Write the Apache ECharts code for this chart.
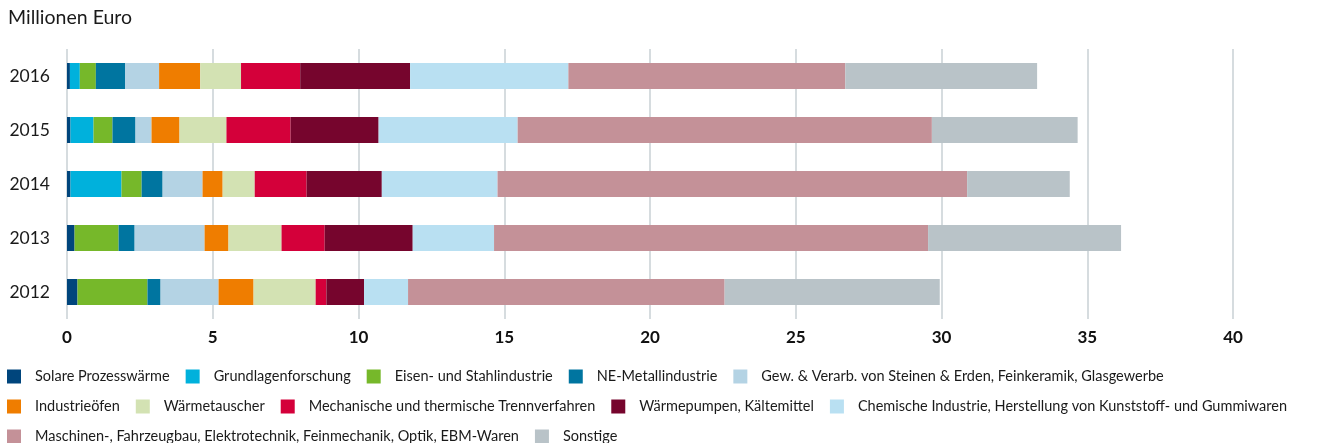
<!DOCTYPE html>
<html>
<head>
<meta charset="utf-8">
<script src="https://cdn.jsdelivr.net/npm/echarts@6/dist/echarts.min.js"></script>
<style>
  html, body { margin: 0; padding: 0; background: #fff; }
  #chart { width: 1317px; height: 443px; }
</style>
</head>
<body>
<div id="chart"></div>
<script>
const FONT = 'Lato, "Noto Sans", sans-serif'

const years = ['2012', '2013', '2014', '2015', '2016']
const xTicks = { min: 0, max: 40, interval: 5 }

// values in Mio. Euro, order 2012..2016
const solare       = [0.36, 0.26, 0.12, 0.12, 0.10]
const grundlagen   = [0, 0, 1.75, 0.79, 0.34]
const eisenStahl   = [2.40, 1.51, 0.69, 0.65, 0.55]
const neMetall     = [0.45, 0.55, 0.72, 0.79, 1.00]
const steineErden  = [1.99, 2.40, 1.37, 0.55, 1.17]
const industrieoef = [1.20, 0.82, 0.69, 0.96, 1.41]
const waermetausch = [2.13, 1.82, 1.10, 1.61, 1.40]
const trennverf    = [0.37, 1.48, 1.78, 2.20, 2.03]
const waermepumpen = [1.29, 3.02, 2.58, 3.02, 3.77]
const chemie       = [1.51, 2.79, 3.97, 4.77, 5.43]
const maschinen    = [10.86, 14.89, 16.11, 14.21, 9.50]
const sonstige     = [7.38, 6.62, 3.52, 5.00, 6.58]

const seriesDefs = [
  { name: 'Solare Prozesswärme', data: solare, color: '#00457c' },
  { name: 'Grundlagenforschung', data: grundlagen, color: '#00b1dc' },
  { name: 'Eisen- und Stahlindustrie', data: eisenStahl, color: '#76b82a' },
  { name: 'NE-Metallindustrie', data: neMetall, color: '#0075a0' },
  { name: 'Gew. & Verarb. von Steinen & Erden, Feinkeramik, Glasgewerbe', data: steineErden, color: '#b4d3e4' },
  { name: 'Industrieöfen', data: industrieoef, color: '#ef7d00' },
  { name: 'Wärmetauscher', data: waermetausch, color: '#d3e2b3' },
  { name: 'Mechanische und thermische Trennverfahren', data: trennverf, color: '#d4003a' },
  { name: 'Wärmepumpen, Kältemittel', data: waermepumpen, color: '#76052d' },
  { name: 'Chemische Industrie, Herstellung von Kunststoff- und Gummiwaren', data: chemie, color: '#b9e0f2' },
  { name: 'Maschinen-, Fahrzeugbau, Elektrotechnik, Feinmechanik, Optik, EBM-Waren', data: maschinen, color: '#c49198' },
  { name: 'Sonstige', data: sonstige, color: '#b9c3c8' },
]

// the legend is laid out in three fixed rows
const legendRows = [
  seriesDefs.slice(0, 5).map(s => s.name),
  seriesDefs.slice(5, 10).map(s => s.name),
  seriesDefs.slice(10).map(s => s.name),
]

const legendRow = (names, top) => ({
  data: names,
  left: 7,
  top: top,
  width: 2000,
  padding: 0,
  icon: 'rect',
  itemWidth: 14,
  itemHeight: 14,
  itemGap: 16,
  selectedMode: false,
  textStyle: { fontFamily: FONT, fontSize: 14.5, color: '#1a1a1a', padding: [0, 0, 0, 9] },
})

const chart = echarts.init(document.getElementById('chart'))
chart.setOption({
  animation: false,
  textStyle: { fontFamily: FONT },
  title: {
    text: 'Millionen Euro',
    left: 3,
    top: 3,
    textStyle: { fontFamily: FONT, fontSize: 19.5, fontWeight: 'normal', color: '#1a1a1a' },
  },
  legend: [
    legendRow(legendRows[0], 369),
    legendRow(legendRows[1], 399),
    legendRow(legendRows[2], 429),
  ],
  grid: { left: 67, right: 84, top: 49, bottom: 124 },
  xAxis: {
    type: 'value',
    ...xTicks,
    axisLine: { show: false },
    axisTick: { show: false },
    splitLine: { lineStyle: { color: '#c8d0d5', width: 1.5 } },
    axisLabel: { fontFamily: FONT, fontSize: 17, fontWeight: 'bold', color: '#111', margin: 10 },
  },
  yAxis: {
    type: 'category',
    data: years,
    axisLine: { show: false },
    axisTick: { show: false },
    axisLabel: { fontFamily: FONT, fontSize: 17.5, color: '#1a1a1a', margin: 17 },
  },
  series: seriesDefs.map(s => ({
    name: s.name,
    type: 'bar',
    stack: 'total',
    barWidth: 26,
    data: s.data,
    itemStyle: { color: s.color },
  })),
})
</script>
</body>
</html>
